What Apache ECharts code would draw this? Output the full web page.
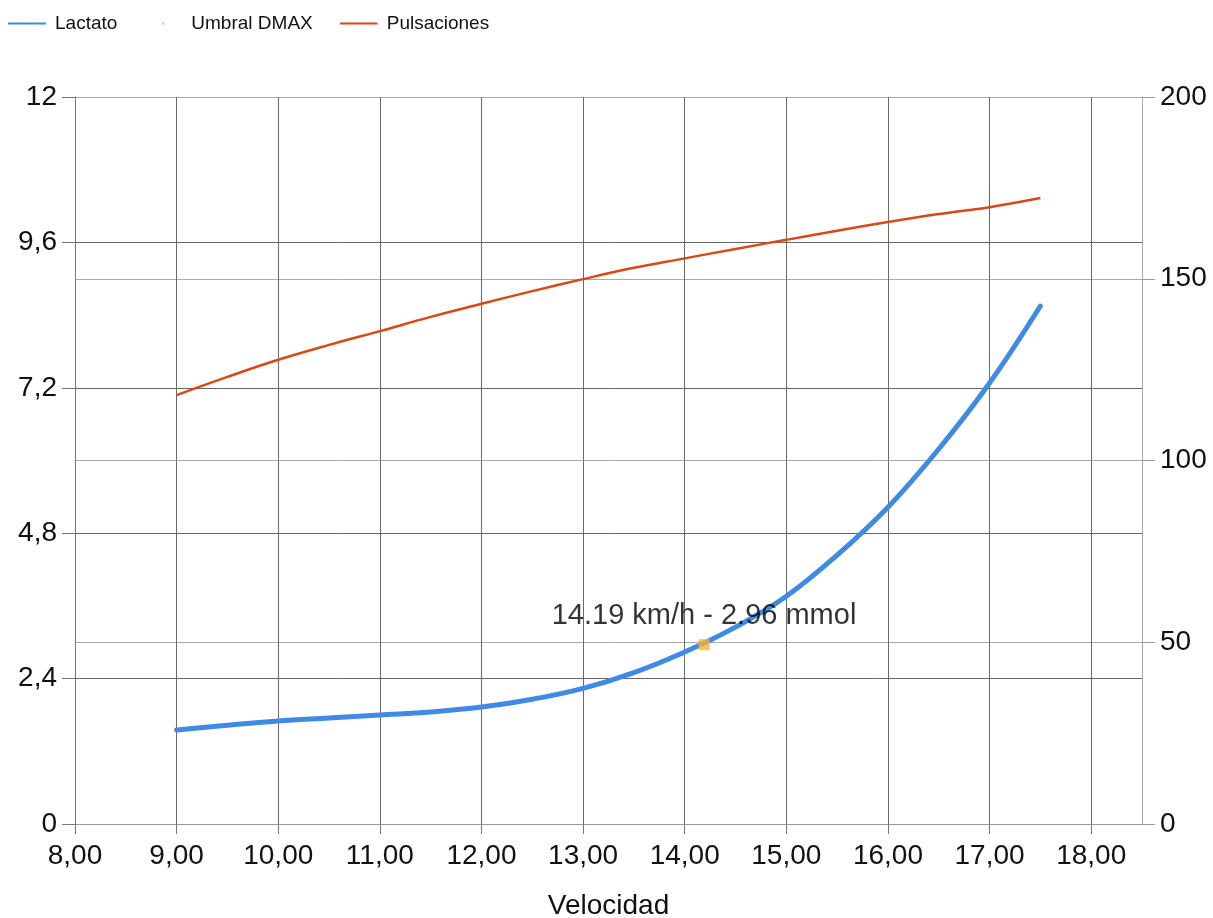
<!DOCTYPE html>
<html>
<head>
<meta charset="utf-8">
<title>Lactato y pulsaciones</title>
<script src="https://cdn.jsdelivr.net/npm/echarts@6/dist/echarts.min.js"></script>
<style>
  html, body { margin: 0; padding: 0; background: #fff; }
  #chart { width: 1213px; height: 918px; }
</style>
</head>
<body>
<div id="chart"></div>
<script>
// Velocidad (km/h) sample points
const velocidad = [9.0, 9.5, 10.0, 10.5, 11.0, 11.5, 12.0, 12.5, 13.0, 13.5, 14.0, 14.5, 15.0, 15.5, 16.0, 16.5, 17.0, 17.5];
// Lactato (mmol) at each speed
const lactato = [1.55, 1.63, 1.70, 1.75, 1.80, 1.85, 1.93, 2.06, 2.24, 2.50, 2.84, 3.25, 3.76, 4.44, 5.23, 6.19, 7.28, 8.55];
// Pulsaciones (ppm) at each speed
const pulsaciones = [118.0, 123.0, 127.7, 131.8, 135.6, 139.5, 143.1, 146.6, 149.9, 153.0, 155.6, 158.2, 160.7, 163.2, 165.6, 167.8, 169.7, 172.2];
// DMAX threshold point [velocidad, lactato]
const umbralDmax = [14.19, 2.96];
// Axis tick values
const xTicks = [8, 9, 10, 11, 12, 13, 14, 15, 16, 17, 18];

const FONT = 'Liberation Sans, Arial, sans-serif';
const fmtComma = (v, d) => v.toFixed(d).replace('.', ',');

const COLOR_LACTATO = '#3f8ae6';
const COLOR_PULSO = '#dc4716';
const COLOR_DMAX = '#f5b337';

// Legend icons: a plain thin line for the curves, a tiny dot for the threshold marker
const svgIcon = body => 'image://data:image/svg+xml;utf8,' + encodeURIComponent(
  '<svg xmlns="http://www.w3.org/2000/svg" width="38" height="14">' + body + '</svg>'
);
const lineIcon = color => svgIcon('<rect x="0" y="6" width="38" height="2" fill="' + color + '"/>');
const dotIcon = svgIcon('<circle cx="19" cy="7" r="1.3" fill="#f0c050"/>');

const chart = echarts.init(document.getElementById('chart'));

chart.setOption({
  animation: false,
  textStyle: { fontFamily: FONT },
  legend: {
    left: 3,
    top: 9,
    itemWidth: 38,
    itemHeight: 14,
    itemGap: 27,
    textStyle: { fontSize: 19, color: '#111', fontFamily: FONT, padding: [0, 0, 0, 4] },
    data: [
      { name: 'Lactato', icon: lineIcon(COLOR_LACTATO) },
      { name: 'Umbral DMAX', icon: dotIcon },
      { name: 'Pulsaciones', icon: lineIcon(COLOR_PULSO) }
    ]
  },
  grid: { left: 75, right: 71, top: 97, bottom: 94, containLabel: false, outerBoundsMode: 'none' },
  xAxis: {
    type: 'value',
    min: 8,
    max: 18.5,
    interval: 1,
    name: 'Velocidad',
    nameLocation: 'middle',
    nameGap: 68,
    nameTextStyle: { fontSize: 28, color: '#111', fontFamily: FONT },
    axisLine: { show: true, lineStyle: { color: '#999', width: 1 } },
    axisTick: { show: true, length: 10, lineStyle: { color: '#777' }, customValues: xTicks },
    axisLabel: {
      fontSize: 28, color: '#111', margin: 18, fontFamily: FONT,
      customValues: xTicks,
      formatter: v => fmtComma(v, 2)
    },
    splitLine: { show: true, lineStyle: { color: '#6a6a6a', width: 1 } }
  },
  yAxis: [
    {
      type: 'value',
      min: 0,
      max: 12,
      interval: 2.4,
      position: 'left',
      axisLine: { show: true, lineStyle: { color: '#777' } },
      axisTick: { show: true, length: 13, lineStyle: { color: '#777' } },
      axisLabel: {
        fontSize: 28, color: '#111', margin: 18, fontFamily: FONT,
        formatter: v => String(Math.round(v * 10) / 10).replace('.', ',')
      },
      splitLine: { show: true, lineStyle: { color: '#666', width: 1 } }
    },
    {
      type: 'value',
      min: 0,
      max: 200,
      interval: 50,
      position: 'right',
      axisLine: { show: true, lineStyle: { color: '#aaa' } },
      axisTick: { show: true, length: 13, lineStyle: { color: '#999' } },
      axisLabel: { fontSize: 28, color: '#111', margin: 18, fontFamily: FONT },
      splitLine: { show: true, lineStyle: { color: '#aaa', width: 1 } }
    }
  ],
  series: [
    {
      name: 'Lactato',
      type: 'line',
      yAxisIndex: 0,
      smooth: 0.4,
      symbol: 'none',
      lineStyle: { color: COLOR_LACTATO, width: 5, cap: 'round' },
      itemStyle: { color: COLOR_LACTATO },
      data: velocidad.map((v, i) => [v, lactato[i]]),
      z: 3
    },
    {
      name: 'Umbral DMAX',
      type: 'scatter',
      yAxisIndex: 0,
      symbol: 'rect',
      symbolSize: 11,
      itemStyle: { color: COLOR_DMAX },
      label: {
        show: true,
        position: 'top',
        distance: 9,
        fontSize: 29,
        color: '#000',
        fontFamily: FONT,
        formatter: p => p.value[0].toFixed(2) + ' km/h - ' + p.value[1].toFixed(2) + ' mmol'
      },
      data: [umbralDmax],
      z: 5
    },
    {
      name: 'Pulsaciones',
      type: 'line',
      yAxisIndex: 1,
      smooth: 0.4,
      symbol: 'none',
      lineStyle: { color: COLOR_PULSO, width: 2.5 },
      itemStyle: { color: COLOR_PULSO },
      data: velocidad.map((v, i) => [v, pulsaciones[i]]),
      z: 3
    }
  ]
});
</script>
</body>
</html>
